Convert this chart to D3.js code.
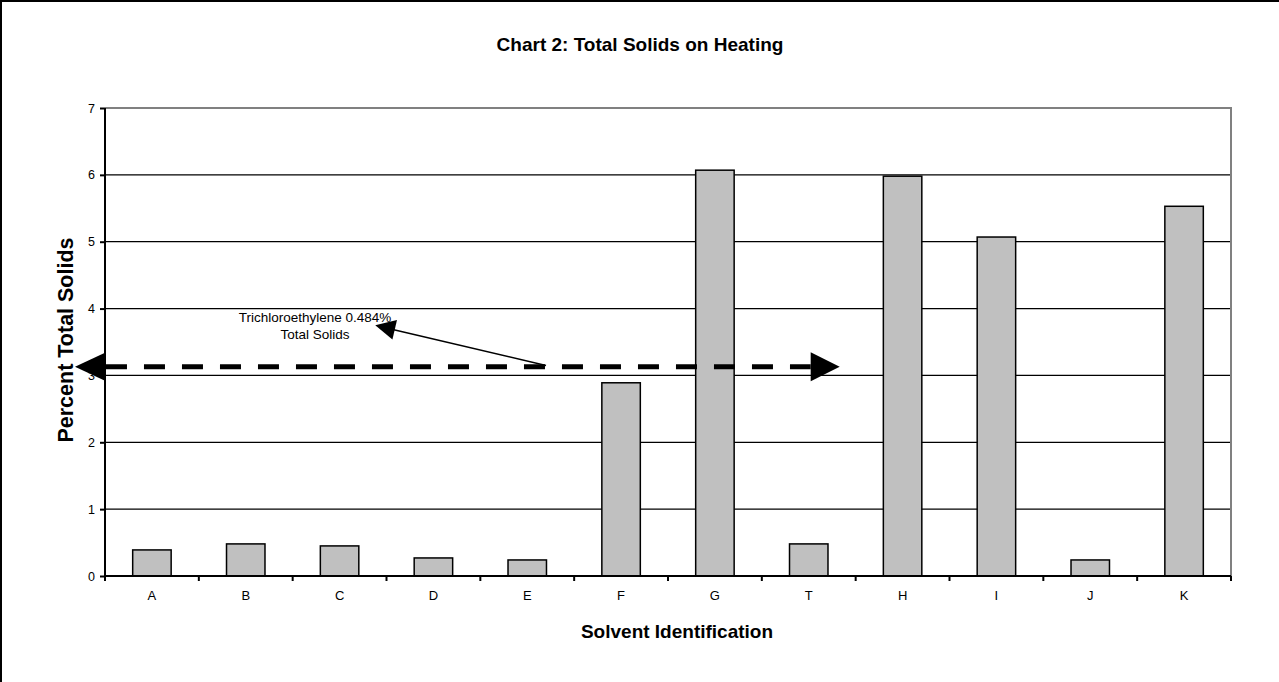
<!DOCTYPE html>
<html lang="en">
<head>
  <meta charset="UTF-8">
  <title>Chart 2: Total Solids on Heating</title>
  <style>
  body { margin: 0; background: #fff; }
  svg { display: block; font-family: Arial, "Liberation Sans", Helvetica, sans-serif; }
  .tick text { fill: #000; }
  </style>
</head>
<body>
  <svg width="1279" height="682"></svg>
  <script src="https://cdnjs.cloudflare.com/ajax/libs/d3/7.8.5/d3.min.js"></script>
  <script>
    // data
    var solvents = ["A", "B", "C", "D", "E", "F", "G", "T", "H", "I", "J", "K"];
    var totalSolids = [0.39, 0.48, 0.45, 0.27, 0.24, 2.89, 6.07, 0.48, 5.98, 5.07, 0.24, 5.53];
    var yTicks = [0, 1, 2, 3, 4, 5, 6, 7];
    // reference line + callout, x in category units, y in percent
    var refLine = { y: 3.13, x0: -0.32, x1: 7.83 };
    var callout = { from: [4.7, 3.15], to: [2.88, 3.75] };
    var calloutText = ["Trichloroethylene 0.484%", "Total Solids"];

    var svg = d3.select("svg"),
        margin = { top: 108, right: 48, bottom: 106, left: 105 },
        width = 1279 - margin.left - margin.right,
        height = 682 - margin.top - margin.bottom;

    // outer frame (right/bottom cut off like the screenshot)
    svg.append("rect")
      .attr("x", 1).attr("y", 1).attr("width", 1290).attr("height", 700)
      .attr("fill", "none").attr("stroke", "#000").attr("stroke-width", 2);

    var g = svg.append("g").attr("transform", "translate(" + margin.left + "," + margin.top + ")");

    var x = d3.scaleBand().domain(solvents).range([0, width]).padding(0);
    var xPos = d3.scaleLinear().domain([0, solvents.length]).range([0, width]);
    var y = d3.scaleLinear().domain([0, 7]).range([height, 0]);

    // gridlines
    g.selectAll(".grid")
      .data(yTicks.filter(function(d) { return d > 0 && d < 7; }))
      .enter().append("line")
        .attr("x1", 0).attr("x2", width)
        .attr("y1", function(d) { return y(d); }).attr("y2", function(d) { return y(d); })
        .attr("stroke", "#000").attr("stroke-width", 1.2);

    // gray plot-area border top + right
    g.append("path")
      .attr("d", "M0," + y(7) + "H" + width + "V" + y(0))
      .attr("fill", "none").attr("stroke", "#808080").attr("stroke-width", 2);

    // bars
    var barW = x.bandwidth() * 0.41;
    g.selectAll(".bar")
      .data(totalSolids)
      .enter().append("rect")
        .attr("class", "bar")
        .attr("x", function(d, i) { return x(solvents[i]) + (x.bandwidth() - barW) / 2; })
        .attr("y", function(d) { return y(d); })
        .attr("width", barW)
        .attr("height", function(d) { return y(0) - y(d); })
        .attr("fill", "#c0c0c0")
        .attr("stroke", "#000").attr("stroke-width", 1.5);

    // y axis
    var yAxis = g.append("g")
      .call(d3.axisLeft(y).tickValues(yTicks).tickSize(5).tickPadding(5).tickFormat(d3.format("d")));
    yAxis.select(".domain").attr("stroke-width", 2).attr("d", "M0," + y(7) + "V" + y(0));
    yAxis.selectAll(".tick line").attr("stroke-width", 2);
    yAxis.selectAll(".tick text").style("font-size", "12.5px");

    // x axis: ticks at category boundaries
    var xAxis = g.append("g").attr("transform", "translate(0," + height + ")");
    xAxis.append("line").attr("x1", 0).attr("x2", width).attr("stroke", "#000").attr("stroke-width", 2);
    xAxis.selectAll(".xt")
      .data(d3.range(solvents.length + 1))
      .enter().append("line")
        .attr("x1", function(d) { return xPos(d); }).attr("x2", function(d) { return xPos(d); })
        .attr("y1", 0).attr("y2", 5)
        .attr("stroke", "#000").attr("stroke-width", 2);
    xAxis.selectAll(".xl")
      .data(solvents)
      .enter().append("text")
        .attr("x", function(d) { return x(d) + x.bandwidth() / 2; })
        .attr("y", 24)
        .attr("text-anchor", "middle")
        .style("font-size", "13px")
        .text(function(d) { return d; });

    // reference dashed line with arrowheads
    var ry = y(refLine.y), rx0 = xPos(refLine.x0), rx1 = xPos(refLine.x1);
    g.append("line")
      .attr("x1", rx0 + 31).attr("x2", rx1 - 29)
      .attr("y1", ry).attr("y2", ry)
      .attr("stroke", "#000").attr("stroke-width", 5)
      .attr("stroke-dasharray", "21,17");
    g.append("path")
      .attr("d", "M" + rx0 + "," + ry + "L" + (rx0 + 30) + "," + (ry - 14) + "L" + (rx0 + 30) + "," + (ry + 14) + "Z")
      .attr("fill", "#000");
    g.append("path")
      .attr("d", "M" + rx1 + "," + ry + "L" + (rx1 - 29) + "," + (ry - 14.5) + "L" + (rx1 - 29) + "," + (ry + 14.5) + "Z")
      .attr("fill", "#000");

    // callout arrow
    var ax0 = xPos(callout.from[0]), ay0 = y(callout.from[1]),
        ax1 = xPos(callout.to[0]), ay1 = y(callout.to[1]);
    var ang = Math.atan2(ay1 - ay0, ax1 - ax0);
    g.append("line")
      .attr("x1", ax0).attr("y1", ay0)
      .attr("x2", ax1 - 18 * Math.cos(ang)).attr("y2", ay1 - 18 * Math.sin(ang))
      .attr("stroke", "#000").attr("stroke-width", 1.5);
    var hl = 20, hw = 10;
    var bx = ax1 - hl * Math.cos(ang), by = ay1 - hl * Math.sin(ang);
    g.append("path")
      .attr("d", "M" + ax1 + "," + ay1 +
        "L" + (bx + hw * Math.sin(ang)) + "," + (by - hw * Math.cos(ang)) +
        "L" + (bx - hw * Math.sin(ang)) + "," + (by + hw * Math.cos(ang)) + "Z")
      .attr("fill", "#000");

    g.selectAll(".callout")
      .data(calloutText)
      .enter().append("text")
        .attr("x", 210)
        .attr("y", function(d, i) { return 214 + i * 17; })
        .attr("text-anchor", "middle")
        .style("font-size", "13.5px")
        .text(function(d) { return d; });

    // titles
    svg.append("text")
      .attr("x", 640).attr("y", 51)
      .attr("text-anchor", "middle")
      .style("font-size", "19px").style("font-weight", "bold")
      .text("Chart 2: Total Solids on Heating");
    svg.append("text")
      .attr("transform", "translate(73,340) rotate(-90)")
      .attr("text-anchor", "middle")
      .style("font-size", "21.5px").style("font-weight", "bold")
      .text("Percent Total Solids");
    svg.append("text")
      .attr("x", 677).attr("y", 638)
      .attr("text-anchor", "middle")
      .style("font-size", "19px").style("font-weight", "bold")
      .text("Solvent Identification");
  </script>
</body>
</html>
